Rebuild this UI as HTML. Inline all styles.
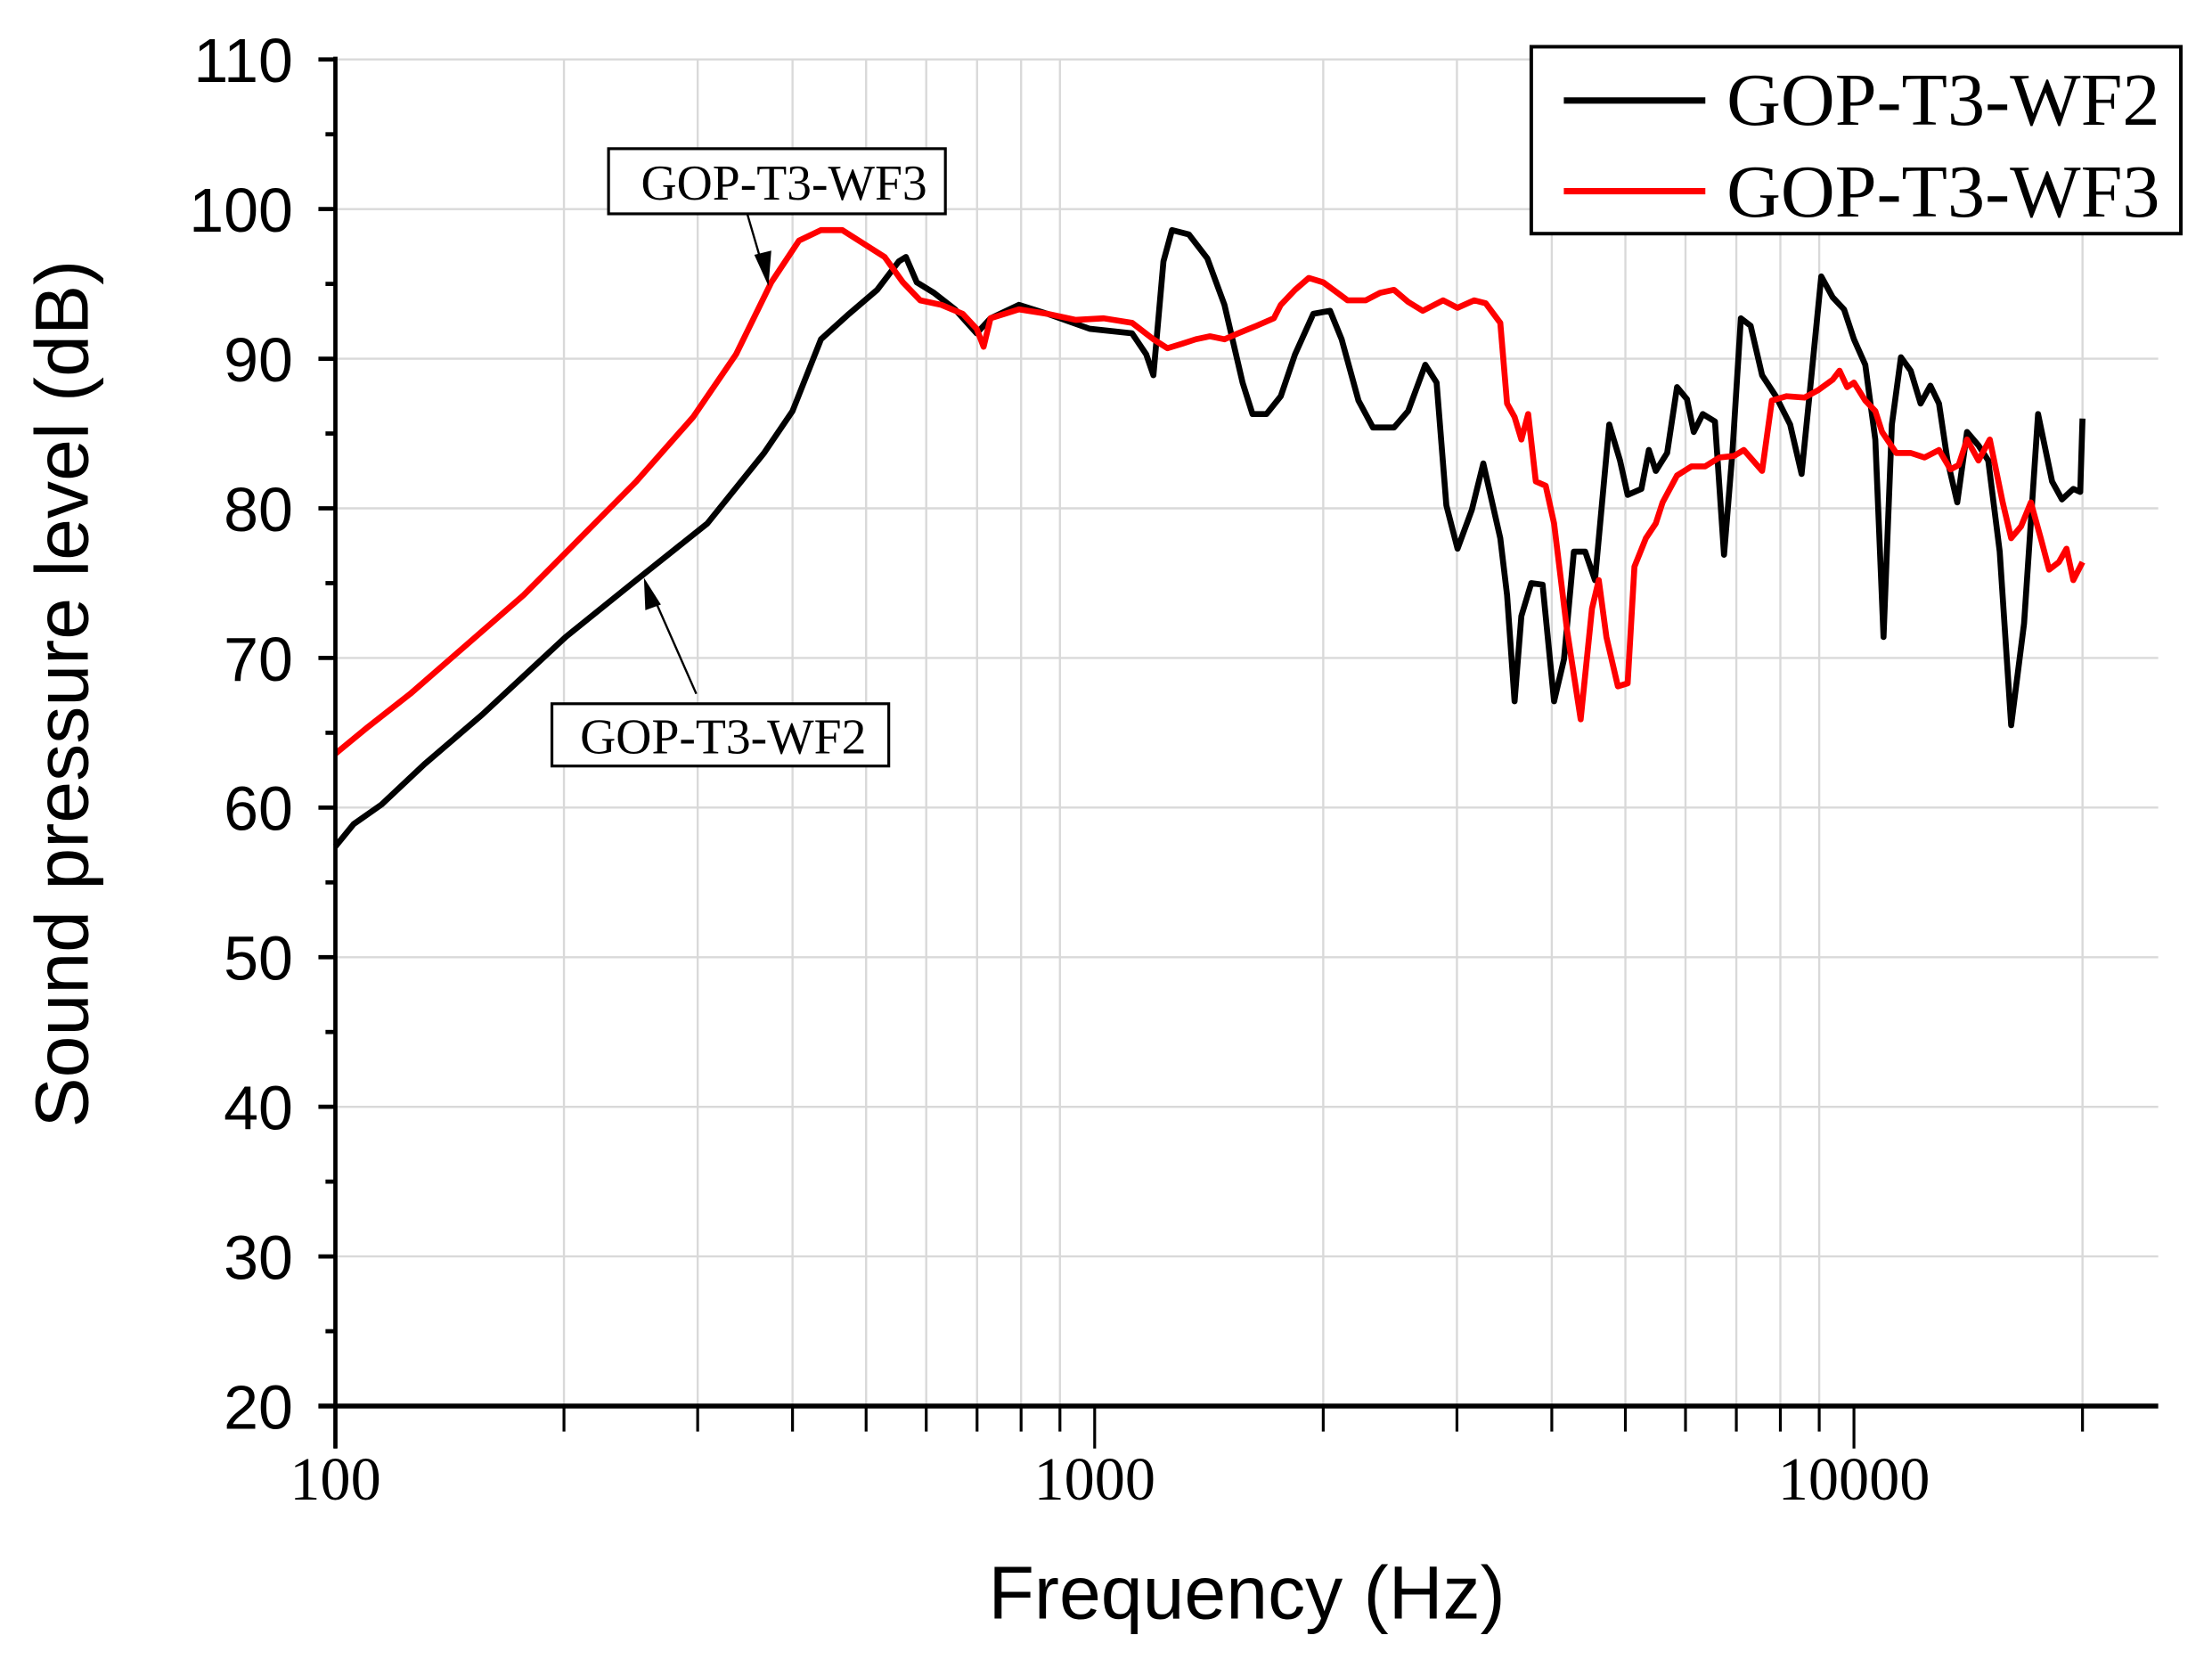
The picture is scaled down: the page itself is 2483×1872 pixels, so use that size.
<!DOCTYPE html>
<html><head><meta charset="utf-8"><style>
html,body{margin:0;padding:0;background:#fff;}
svg{display:block;}
</style></head><body>
<svg id="chart" width="2483" height="1872" viewBox="0 0 1563 1178" preserveAspectRatio="none" xmlns="http://www.w3.org/2000/svg">
<g id="grid"></g>
<g id="series"></g>
<g id="axes"></g>
<text x="881" y="1143" font-family="Liberation Sans, sans-serif" font-size="53" text-anchor="middle">Frequency (Hz)</text>
<text transform="translate(62,490) rotate(-90)" font-family="Liberation Sans, sans-serif" font-size="53" text-anchor="middle">Sound pressure level (dB)</text>
<g>
<rect x="1082" y="33" width="459" height="132" fill="#fff" stroke="#000" stroke-width="2.5"/>
<g>
<line x1="1105" y1="71" x2="1205" y2="71" stroke="#000" stroke-width="4.5"/>
<text x="1220" y="88" font-family="Liberation Serif, serif" font-size="53">GOP-T3-WF2</text></g>
<g>
<line x1="1105" y1="135" x2="1205" y2="135" stroke="#f00" stroke-width="4.5"/>
<text x="1220" y="153" font-family="Liberation Serif, serif" font-size="53">GOP-T3-WF3</text></g>
</g>
<g>
<rect x="430" y="105" width="238" height="46" fill="#fff" stroke="#000" stroke-width="2"/>
<text x="554" y="141" font-family="Liberation Serif, serif" font-size="35" text-anchor="middle">GOP-T3-WF3</text>
<line x1="528" y1="151" x2="540" y2="192" stroke="#000" stroke-width="1.5"/>
<polygon points="543,202 533,180 545,177" fill="#000"/>
</g>
<g>
<rect x="390" y="497" width="238" height="44" fill="#fff" stroke="#000" stroke-width="2"/>
<text x="511" y="532" font-family="Liberation Serif, serif" font-size="35" text-anchor="middle">GOP-T3-WF2</text>
<line x1="492" y1="490" x2="462" y2="422" stroke="#000" stroke-width="1.5"/>
<polygon points="455,408 467,427 456,431" fill="#000"/>
</g>
</svg>
<script>
const wf2Freq=[100,105.7,115,131,156,201,249,309,367,400,436,475,517,552,564,583,614,655,699,729,795,866,985,1120,1169,1195,1232,1264,1331,1407,1482,1566,1614,1684,1758,1836,1941,2042,2115,2226,2325,2479,2587,2725,2820,2905,3006,3138,3249,3421,3493,3573,3648,3758,3890,4027,4150,4276,4426,4560,4762,4920,5035,5248,5370,5483,5675,5848,6026,6152,6324,6561,6745,6918,7096,7311,7568,7889,8241,8531,8790,9057,9376,9705,10000,10350,10670,10940,11220,11530,11880,12240,12610,12940,13280,13680,14090,14590,15030,15560,16110,16750,17480,18240,18790,19450,19860,20000];
const wf2Db=[57.4,58.9,60.2,62.9,66.2,71.4,75.2,79.0,83.7,86.5,91.3,93.0,94.6,96.5,96.8,95.1,94.4,93.3,91.7,92.7,93.6,93.0,92.0,91.7,90.3,88.9,96.5,98.6,98.3,96.7,93.6,88.4,86.3,86.3,87.5,90.3,93.0,93.2,91.3,87.2,85.4,85.4,86.5,89.6,88.4,80.2,77.3,79.9,83.0,78.0,74.2,67.1,72.8,75.0,74.9,67.1,69.9,77.1,77.1,75.2,85.6,83.2,80.9,81.3,83.9,82.5,83.7,88.1,87.3,85.1,86.3,85.8,76.9,83.7,92.7,92.2,88.9,87.5,85.6,82.3,88.9,95.5,94.1,93.3,91.3,89.6,84.6,71.4,85.6,90.1,89.2,87.0,88.2,87.0,83.2,80.4,85.1,84.2,83.2,77.1,65.5,72.3,86.3,81.8,80.6,81.3,81.1,86.0];
const wf3Freq=[100,110.4,125.5,149,177,210,249,296,337,375,408,436,465,496,529,559,589,628,670,699,714,729,795,866,944,1028,1120,1195,1247,1303,1359,1419,1482,1545,1633,1722,1758,1836,1914,2000,2089,2153,2275,2377,2479,2587,2704,2877,3006,3162,3273,3421,3493,3573,3648,3724,3811,3926,4027,4188,4365,4519,4613,4721,4887,5035,5140,5321,5483,5598,5848,6109,6368,6653,6950,7161,7568,7798,8147,8610,8974,9376,9572,9795,10000,10350,10670,10890,11370,11880,12390,12940,13400,13740,14090,14590,15100,15700,16110,16600,17100,17620,18070,18620,19050,19450,20000];
const wf3Db=[63.6,65.4,67.6,70.9,74.2,78.0,81.8,86.1,90.3,95.1,97.9,98.6,98.6,97.7,96.8,95.1,93.9,93.6,93.0,92.0,90.8,92.7,93.3,93.0,92.6,92.7,92.4,91.3,90.7,91.0,91.3,91.5,91.3,91.7,92.2,92.7,93.6,94.6,95.4,95.1,94.4,93.9,93.9,94.4,94.6,93.8,93.2,93.9,93.4,93.9,93.7,92.4,87.0,86.1,84.6,86.3,81.8,81.5,79.0,71.9,65.9,73.3,75.2,71.4,68.1,68.3,76.1,78.0,79.0,80.4,82.2,82.8,82.8,83.4,83.5,83.9,82.5,87.2,87.5,87.4,87.9,88.6,89.2,88.1,88.4,87.2,86.5,85.1,83.7,83.7,83.4,83.9,82.6,82.9,84.6,83.2,84.6,80.4,78.0,78.8,80.4,78.0,75.9,76.4,77.3,75.2,76.4];
const yTicks=[20,30,40,50,60,70,80,90,100,110];
const xTickLabels=[100,1000,10000];

const NS="http://www.w3.org/2000/svg";
const L=237,R=1525,T=42,B=993,DEC=536.5;
function xs(f){return L+Math.log10(f/100)*DEC;}
function ys(v){return B-(v-20)*(B-T)/90;}
function mk(tag,attrs,parent){const e=document.createElementNS(NS,tag);for(const k in attrs)e.setAttribute(k,attrs[k]);parent.appendChild(e);return e;}
const grid=document.getElementById('grid'),axes=document.getElementById('axes'),series=document.getElementById('series');
for(let d=100;d<=10000;d*=10){for(let m=1;m<=9;m++){const f=d*m;const x=xs(f);
 if(x>R)continue;
 if(m>1){const g=mk('line',{x1:x,y1:T,x2:x,y2:B,stroke:'#d9d9d9','stroke-width':1.5},grid);
 
 }
 const t=mk('line',{x1:x,y1:B,x2:x,y2:B+(m===1?30:18),stroke:'#000','stroke-width':2},axes);
 
 }}
xTickLabels.forEach(f=>{const t=mk('text',{x:xs(f),y:1059,'font-family':'Liberation Serif, serif','font-size':43,'text-anchor':'middle'},axes);t.textContent=f;
 
 });
yTicks.forEach(v=>{const y=ys(v);
 if(v>20){const g=mk('line',{x1:L,y1:y,x2:R,y2:y,stroke:'#d9d9d9','stroke-width':1.5},grid);
 
 }
 const t=mk('line',{x1:L-12,y1:y,x2:L,y2:y,stroke:'#000','stroke-width':3},axes);
 
 
 const lb=mk('text',{x:207,y:y+16,'font-family':'Liberation Sans, sans-serif','font-size':44,'text-anchor':'end'},axes);lb.textContent=v;
 
 
 if(v<110){const ym=ys(v+5);const m=mk('line',{x1:L-7,y1:ym,x2:L,y2:ym,stroke:'#000','stroke-width':3},axes);
 
 }});
const ya=mk('line',{x1:L,y1:T-2,x2:L,y2:B+30,stroke:'#000','stroke-width':3},axes);


const xa=mk('line',{x1:L-12,y1:B,x2:R,y2:B,stroke:'#000','stroke-width':3.5},axes);


function line(fr,db,color,name){const p=fr.map((f,i)=>xs(f).toFixed(1)+','+ys(db[i]).toFixed(1)).join(' ');
 const e=mk('polyline',{points:p,fill:'none',stroke:color,'stroke-width':4.2,'stroke-linejoin':'round'},series);
 
 }
line(wf2Freq,wf2Db,'#000','series-gop-t3-wf2');
line(wf3Freq,wf3Db,'#f00','series-gop-t3-wf3');
</script>
</body></html>
